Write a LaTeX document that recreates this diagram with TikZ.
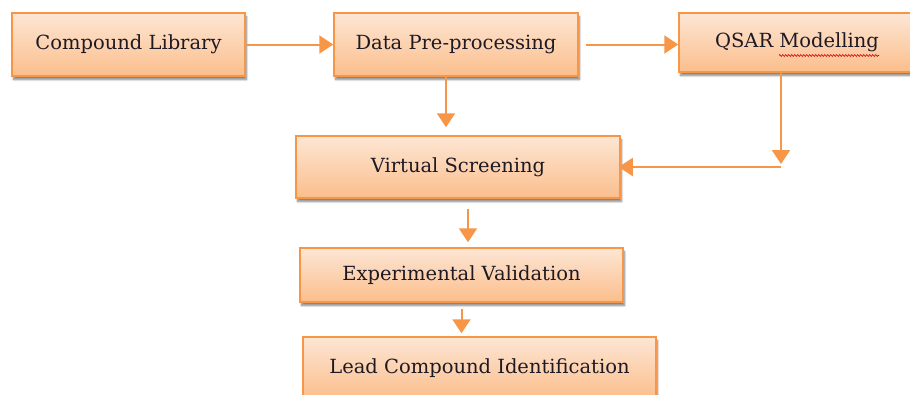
\documentclass[tikz,border=0pt]{standalone}
\usepackage{fontspec}
\setmainfont{DejaVu Serif}
\usetikzlibrary{arrows.meta,shadows.blur,calc,decorations.pathmorphing}

\definecolor{accent}{RGB}{247,150,70}
\definecolor{filltop}{RGB}{253,230,212}
\definecolor{fillbot}{RGB}{251,190,140}
\definecolor{inkdark}{RGB}{30,26,36}

\tikzset{
  stepbox/.style={draw=accent, line width=1.5pt, top color=filltop, bottom color=fillbot,
    blur shadow={shadow xshift=1.5pt, shadow yshift=-3.5pt, shadow blur steps=6, shadow opacity=50},
    text=inkdark, font=\fontsize{19.5}{23}\selectfont, inner sep=0pt},
  flow/.style={draw=accent, line width=2pt, -{Triangle[width=18pt,length=14pt]}}
}

\begin{document}
\begin{tikzpicture}[x=1pt,y=-1pt]
  \useasboundingbox (0,0) rectangle (910,394);

  % process boxes
  \node[stepbox, minimum width=233pt, minimum height=63pt] (lib) at (128.5,44.5) {Compound Library};
  \node[stepbox, minimum width=244pt, minimum height=63pt] (pre) at (456,44.5) {Data Pre-processing};
  \node[stepbox, minimum width=236pt, minimum height=59pt] (qsar) at (797,42.5) {QSAR Modelling};
  \node[stepbox, minimum width=324pt, minimum height=62pt] (vs) at (458,167) {Virtual Screening};
  \node[stepbox, minimum width=323pt, minimum height=54pt] (ev) at (461.5,275) {Experimental Validation};
  \node[stepbox, minimum width=353pt, minimum height=62pt] (lead) at (479.5,368) {Lead Compound Identification};

  % spell-check squiggle under "Modelling"
  \draw[red!85!black, line width=0.6pt, decorate,
        decoration={zigzag, segment length=3pt, amplitude=0.9pt}]
    ($(qsar.center)+(-18,13)$) -- ($(qsar.center)+(82,13)$);

  % connectors
  \draw[flow] (lib.east) -- (pre.west);
  \draw[flow, shorten <=7pt] (pre.east) -- (pre.east -| qsar.west);
  \draw[flow, shorten >=8pt] ([xshift=-10pt]pre.south) -- ([xshift=-12pt]vs.north);

  \coordinate (turn) at ([xshift=-16pt]qsar.south |- vs.east);
  \draw[flow, shorten >=3pt] ([xshift=-16pt]qsar.south) -- (turn);
  \draw[flow, shorten >=-2pt] (turn) -- (vs.east);

  \draw[flow, shorten <=10pt, shorten >=5pt] ([xshift=10pt]vs.south) -- ([xshift=10pt]vs.south |- ev.north);
  \draw[flow, shorten <=6pt, shorten >=3pt] (ev.south) -- (ev.south |- lead.north);
\end{tikzpicture}
\end{document}
